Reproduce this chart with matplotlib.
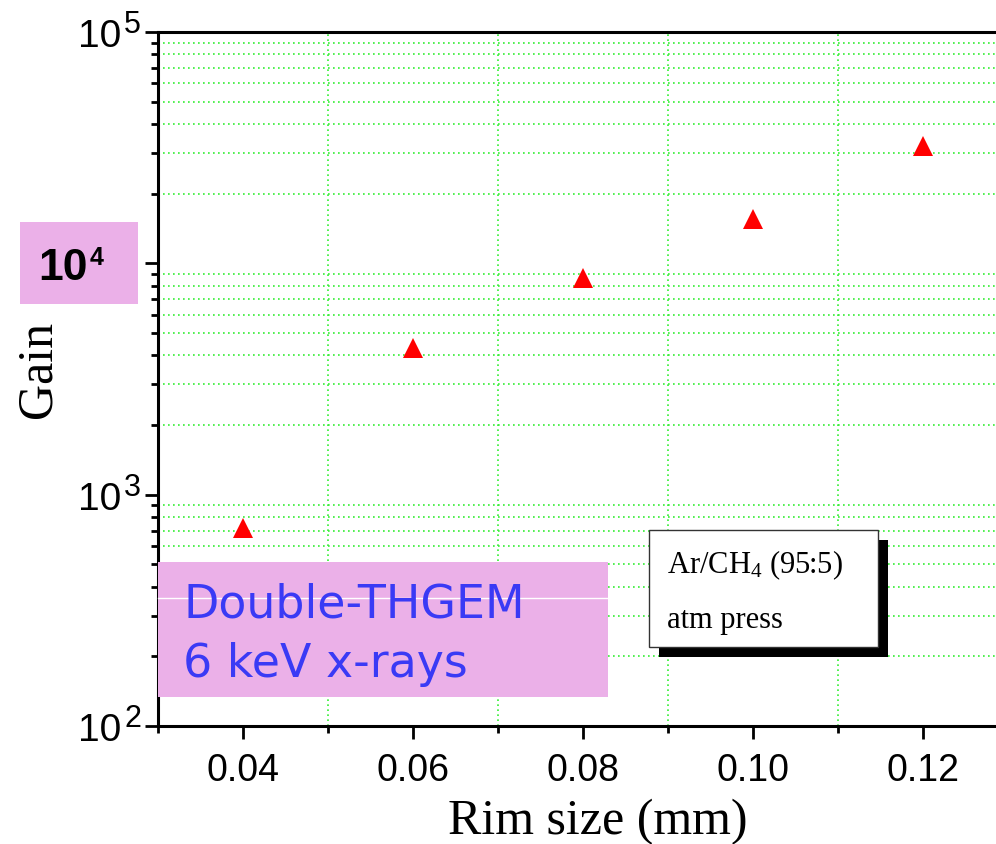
import matplotlib
matplotlib.use('Agg')
import matplotlib.pyplot as plt
import matplotlib.transforms as mtransforms
from matplotlib.patches import Rectangle
from matplotlib.ticker import FixedLocator, FixedFormatter, LogLocator, NullFormatter

# rim size (mm) and measured double-THGEM gain
rim = [0.04, 0.06, 0.08, 0.10, 0.12]
gain = [720, 4300, 8600, 15600, 32300]

xticks = [0.04, 0.06, 0.08, 0.10, 0.12]
xtick_labels = ['0.04', '0.06', '0.08', '0.10', '0.12']
xminor = [0.03, 0.05, 0.07, 0.09, 0.11]
yticks = [1e2, 1e3, 1e4, 1e5]
ydecades = [(1e2, '2'), (1e3, '3'), (1e5, '5')]

sans = 'Liberation Sans'
serif = 'Liberation Serif'
grid_green = '#33ee33'
pink = '#ebb0e8'

fig = plt.figure(figsize=(9.96, 8.45), dpi=100)
ax = fig.add_axes([158/996., 1 - 727/845., 1 - 158/996., (727 - 33)/845.])

ax.set_yscale('log')
ax.set_ylim(1e2, 1e5)
ax.set_xlim(0.03, 0.03 + (996 - 158) / 8500.)

ax.plot(rim, gain, linestyle='none', marker='^', markersize=13.8,
        color='#ff0000', markeredgewidth=0, zorder=5, clip_on=False)

ax.xaxis.set_major_locator(FixedLocator(xticks))
ax.xaxis.set_major_formatter(FixedFormatter(xtick_labels))
ax.xaxis.set_minor_locator(FixedLocator(xminor))
ax.yaxis.set_major_locator(FixedLocator(yticks))
ax.yaxis.set_major_formatter(NullFormatter())
ax.yaxis.set_minor_locator(LogLocator(base=10, subs=range(2, 10)))
ax.yaxis.set_minor_formatter(NullFormatter())

ax.grid(False)
ax.grid(True, which='minor', color=grid_green, linestyle=(0, (1, 2)), linewidth=1.2)

for s in ['left', 'bottom', 'top']:
    ax.spines[s].set_linewidth(2.2)
ax.spines['right'].set_visible(False)

ax.tick_params(which='major', direction='out', length=9.5, width=2, top=False, right=False)
ax.tick_params(which='minor', direction='out', length=5, width=2, top=False, right=False)
ax.tick_params(axis='x', which='major', pad=9, labelsize=27)
for lab in ax.get_xticklabels():
    lab.set_fontfamily(sans)


def shifted(dx, dy):
    # offset of dx, dy pixels from the y-axis transform
    return ax.get_yaxis_transform() + mtransforms.ScaledTranslation(
        dx / 100., dy / 100., fig.dpi_scale_trans)


# y decade labels written as base plus raised exponent
for val, exp in ydecades:
    ax.text(0, val, '10', transform=shifted(-37, -14), family=sans,
            fontsize=28, ha='right', va='baseline', clip_on=False)
    ax.text(0, val, exp, transform=shifted(-34, 0), family=sans,
            fontsize=22, ha='left', va='baseline', clip_on=False)

# axis titles
fig.text(598/996., 1 - 834/845., 'Rim size (mm)', family=serif, fontsize=36,
         ha='center', va='baseline')
fig.text(38/996., 1 - 369/845., 'Gain', family=serif, fontsize=36,
         rotation=90, ha='center', va='center')

# highlighted 10^4 label
fig.patches.append(Rectangle((20/996., 1 - 305/845.), 118/996., 82/845.,
                             transform=fig.transFigure, facecolor=pink,
                             edgecolor='none', zorder=3))
fig.text(88/996., 1 - 280/845., '10', family=sans, fontsize=32,
         fontweight='bold', ha='right', va='baseline', zorder=4)
fig.text(90/996., 1 - 265/845., '4', family=sans, fontsize=18,
         fontweight='bold', ha='left', va='baseline', zorder=4)

# detector annotation box
fig.patches.append(Rectangle((158/996., 1 - 698/845.), 450/996., 135/845.,
                             transform=fig.transFigure, facecolor=pink,
                             edgecolor='none', zorder=3))
fig.lines.append(plt.Line2D([158/996., 608/996.], [1 - 599/845., 1 - 599/845.],
                            transform=fig.transFigure, color='white',
                            linewidth=1, zorder=3.5))
fig.text(183/996., 1 - 618/845., 'Double-THGEM', family='DejaVu Sans',
         fontsize=33, color='#3a3af5', ha='left', va='baseline', zorder=4)
fig.text(183/996., 1 - 677/845., '6 keV x-rays', family='DejaVu Sans',
         fontsize=33, color='#3a3af5', ha='left', va='baseline', zorder=4)

# gas conditions box with drop shadow
fig.patches.append(Rectangle((659/996., 1 - 658/845.), 229/996., 117/845.,
                             transform=fig.transFigure, facecolor='black',
                             edgecolor='none', zorder=3))
fig.patches.append(Rectangle((649/996., 1 - 648/845.), 229/996., 117/845.,
                             transform=fig.transFigure, facecolor='white',
                             edgecolor='#333333', linewidth=1, zorder=3.5))
fig.text(667/996., 1 - 573/845., r'Ar/CH$\mathregular{_4}$ (95:5)', family=serif,
         fontsize=22, ha='left', va='baseline', zorder=4)
fig.text(667/996., 1 - 628/845., 'atm press', family=serif,
         fontsize=22, ha='left', va='baseline', zorder=4)

fig.savefig('out.png', dpi=100)
